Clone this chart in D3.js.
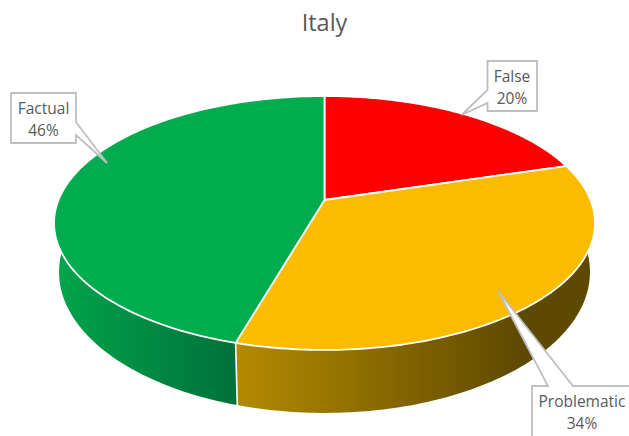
<!DOCTYPE html>
<html>
<head>
<meta charset="utf-8">
<script src="https://cdn.jsdelivr.net/npm/d3@7"></script>
<style>
  html, body { margin: 0; padding: 0; background: #fff; }
  text { font-family: "Open Sans", Lato, sans-serif; fill: #595959; }
</style>
</head>
<body>
<div id="chart"></div>
<script>
const title = 'Italy'
const categories = ['False', 'Problematic', 'Factual']
const shares = [0.203, 0.3415, 0.4555]
const topColors = ['#ff0000', '#fbbc00', '#00ac4e']
const wallLeft = ['#b30000', '#b48a00', '#00a54b']
const wallRight = ['#660000', '#5e4900', '#00703a']
const wallFade = [1, 0.8, 0.68]

// label boxes, [left, top, right, bottom], and callout [tip x, tip y] + where it leaves the box
// the Problematic box runs off the edge of the picture
const calloutBoxes = [[487.5, 61, 537, 111], [532, 386, 645, 450], [11, 93, 76, 143]]
const calloutTips = [[461.5, 115], [498, 291], [107, 163]]
const calloutBases = [[[487.5, 90], [487.5, 103]], [[548, 386], [573, 386]], [[76, 122], [76, 135]]]
const calloutTextX = [512, 582, 43.5]

const width = 629
const height = 436

// tilted disc with a little perspective, apex sits above the middle of the ellipse
const cx = 324.5
const apexY = 200
const persp = 0.181
const radiusX = 266
const radiusY = 86.6
const wallScaleX = 0.9815
const wallScaleY = 1.11
const wallShift = 24.5

const project = (angle, r = 1) => {
  const u = Math.sin(angle) * r
  const v = -Math.cos(angle) * r
  const w = 1 - persp * v
  return [cx + radiusX * u / w, (apexY + radiusY * v) / w]
}
const lower = (p) => [cx + (p[0] - cx) * wallScaleX, p[1] * wallScaleY + wallShift]

const pie = d3.pie().sort(null).value(d => d)
const arcs = pie(shares)
const line = d3.line()
const fmt = d3.format('.0%')

const arcPoints = (a0, a1) => {
  return d3.range(0, 121).map(i => project(a0 + (a1 - a0) * i / 120))
}

// wall is a strip of small quads so the silhouette comes out right on the sides
const wallPath = (a0, a1) => {
  const pts = arcPoints(a0, a1)
  return pts.slice(1).map((p, i) => {
    const q = pts[i]
    return line([q, p, lower(p), lower(q)]) + 'Z'
  }).join('')
}

const svg = d3.select('#chart').append('svg')
  .attr('width', width)
  .attr('height', height)
  .style('display', 'block')

const defs = svg.append('defs')
arcs.forEach((d, i) => {
  const xs = arcPoints(d.startAngle, d.endAngle).map(p => p[0])
  const g = defs.append('linearGradient')
    .attr('id', 'wall' + i)
    .attr('gradientUnits', 'userSpaceOnUse')
    .attr('x1', d3.min(xs)).attr('x2', d3.max(xs))
    .attr('y1', 0).attr('y2', 0)
  g.append('stop').attr('offset', 0).attr('stop-color', wallLeft[i])
  g.append('stop').attr('offset', wallFade[i]).attr('stop-color', wallRight[i])
})

svg.selectAll('.wall')
  .data(arcs)
  .enter().append('path')
  .attr('class', 'wall')
  .attr('fill', (d, i) => `url(#wall${i})`)
  .attr('d', d => wallPath(d.startAngle, d.endAngle))

// white seam where two walls meet at the front
svg.append('path')
  .attr('d', () => {
    const p = project(arcs[1].endAngle)
    return line([p, lower(p)])
  })
  .attr('stroke', '#fff')
  .attr('stroke-width', 1.6)

svg.selectAll('.slice')
  .data(arcs)
  .enter().append('path')
  .attr('class', 'slice')
  .attr('fill', (d, i) => topColors[i])
  .attr('stroke', '#fff')
  .attr('stroke-width', 1.8)
  .attr('stroke-linejoin', 'round')
  .attr('d', d => line([project(0, 0), ...arcPoints(d.startAngle, d.endAngle)]) + 'Z')

svg.append('text')
  .attr('x', cx)
  .attr('y', 31)
  .attr('text-anchor', 'middle')
  .style('font-size', '23.5px')
  .text(title)

categories.forEach((name, i) => {
  const [x0, y0, x1, y1] = calloutBoxes[i]
  const tip = calloutTips[i]
  const [b0, b1] = calloutBases[i]
  const corners = [[x0, y0], [x1, y0], [x1, y1], [x0, y1]]

  // walk round the box clockwise and put the pointer into the side it leaves from
  let outline
  if (b0[1] === y0) {
    outline = [corners[0], b0, tip, b1, corners[1], corners[2], corners[3]]
  } else if (b0[0] === x0) {
    outline = [corners[0], corners[1], corners[2], corners[3], b1, tip, b0]
  } else {
    outline = [corners[0], corners[1], b0, tip, b1, corners[2], corners[3]]
  }

  svg.append('path')
    .attr('d', line(outline) + 'Z')
    .attr('fill', '#fff')
    .attr('stroke', '#bfbfbf')
    .attr('stroke-width', 1.8)

  svg.append('text')
    .attr('x', calloutTextX[i]).attr('y', y0 + 21)
    .attr('text-anchor', 'middle')
    .style('font-size', '15.5px')
    .text(name)
  svg.append('text')
    .attr('x', calloutTextX[i]).attr('y', y0 + 43)
    .attr('text-anchor', 'middle')
    .style('font-size', '15.5px')
    .text(fmt(shares[i]))
})
</script>
</body>
</html>
